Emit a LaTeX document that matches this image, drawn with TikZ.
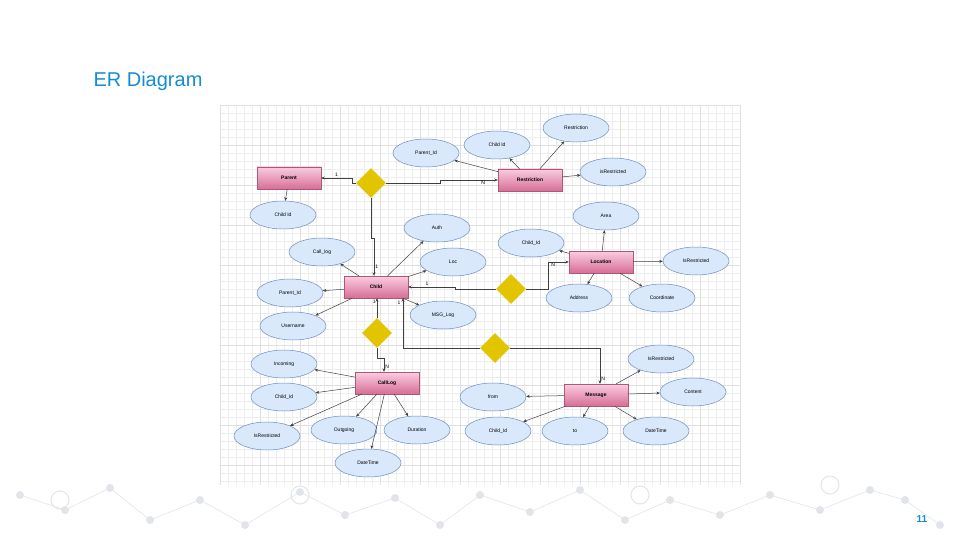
\documentclass[tikz,border=0pt]{standalone}
\usepackage{fontspec}
\setmainfont{Liberation Sans}
\usetikzlibrary{shapes.geometric,arrows.meta}
\definecolor{ttl}{RGB}{20,140,210}
\definecolor{ell}{RGB}{218,232,252}
\definecolor{ellb}{RGB}{108,142,191}
\definecolor{ent1}{RGB}{250,205,225}
\definecolor{ent2}{RGB}{215,110,150}
\definecolor{dia}{RGB}{227,196,0}
\definecolor{deco}{RGB}{225,228,232}
\begin{document}
\begin{tikzpicture}[x=1pt,y=-1pt,
 ent/.style={draw=ent2!80!black,line width=0.4pt,top color=ent1,bottom color=ent2,minimum width=64pt,minimum height=22pt,font=\fontsize{5}{6}\selectfont\bfseries,inner sep=0pt},
 att/.style={ellipse,draw=ellb,fill=ell,line width=0.5pt,minimum width=66pt,minimum height=28pt,font=\fontsize{5}{6}\selectfont,inner sep=0pt},
 rel/.style={diamond,fill=dia,minimum width=30pt,minimum height=30pt,inner sep=0pt},
 ln/.style={draw=black!75,line width=0.5pt,-{Stealth[length=3.5pt,width=3pt]}},
 lb/.style={font=\fontsize{5}{6}\selectfont,inner sep=1pt}]
\useasboundingbox (0,0) rectangle (960,540);
% bottom decoration
\foreach \x/\y in {20/495,65/510,110/488,150/520,200/500,245/525,300/492,345/515,395/498,440/525,480/495,530/512,580/490,625/520,670/500,720/515,770/495,820/510,870/490,905/500,940/525}{
  \fill[deco] (\x,\y) circle (4pt);}
\foreach \x/\y in {60/500,300/495,640/495,830/485}{\draw[deco,line width=1pt] (\x,\y) circle (9pt);}
\draw[deco,line width=0.6pt] (20,495)--(65,510)--(110,488)--(150,520)--(200,500)--(245,525) (300,492)--(345,515)--(395,498)--(440,525) (480,495)--(530,512)--(580,490)--(625,520)--(670,500)--(720,515)--(770,495)--(820,510)--(870,490)--(905,500)--(940,525) (245,525)--(300,492) (440,525)--(480,495);
% grid
\fill[white] (220,105) rectangle (740,485);
\foreach \i in {0,...,65}{\draw[black!7,line width=0.3pt] (220+8*\i,105) -- (220+8*\i,485);}
\foreach \j in {0,...,47}{\draw[black!7,line width=0.3pt] (220,105+8*\j) -- (740,105+8*\j);}
\foreach \i in {0,...,13}{\draw[black!12,line width=0.3pt] (220+40*\i,105) -- (220+40*\i,485);}
\foreach \j in {0,...,9}{\draw[black!12,line width=0.3pt] (220,105+40*\j) -- (740,105+40*\j);}
\node[anchor=west,text=ttl,font=\fontsize{20}{24}\selectfont] (title) at (90,81) {ER Diagram};
\node[text=ttl,font=\fontsize{10}{12}\selectfont\bfseries] (pg) at (922,519) {11};
% entities
\node[ent] (par) at (289,178) {Parent};
\node[ent] (res) at (530,180) {Restriction};
\node[ent] (chi) at (376,287) {Child};
\node[ent] (loc) at (601,262) {Location};
\node[ent] (cal) at (387,383) {CallLog};
\node[ent] (msg) at (596,395) {Message};
% relations
\node[rel] (d1) at (371,183) {};
\node[rel] (d2) at (511,289) {};
\node[rel] (d3) at (377,333) {};
\node[rel] (d4) at (495,348) {};
% attributes
\node[att] (a1) at (283,215) {Child Id};
\node[att] (a2) at (426,153) {Parent\_Id};
\node[att] (a3) at (497,145) {Child Id};
\node[att] (a4) at (576,128) {Restriction};
\node[att] (a5) at (613,172) {isRestricted};
\node[att] (a6) at (437,228) {Auth};
\node[att] (a7) at (322,252) {Call\_log};
\node[att] (a8) at (453,262) {Loc};
\node[att] (a9) at (290,293) {Parent\_Id};
\node[att] (a10) at (293,326) {Username};
\node[att] (a11) at (443,315) {MSG\_Log};
\node[att] (a12) at (606,216) {Area};
\node[att] (a13) at (531,243) {Child\_Id};
\node[att] (a14) at (696,261) {IsRestricted};
\node[att] (a15) at (579,298) {Address};
\node[att] (a16) at (662,298) {Coordinate};
\node[att] (a17) at (284,364) {Incoming};
\node[att] (a18) at (284,397) {Child\_Id};
\node[att] (a19) at (267,436) {IsRestricted};
\node[att] (a20) at (344,430) {Outgoing};
\node[att] (a21) at (417,430) {Duration};
\node[att] (a22) at (368,463) {DateTime};
\node[att] (a23) at (661,359) {IsRestricted};
\node[att] (a24) at (693,392) {Content};
\node[att] (a25) at (493,397) {from};
\node[att] (a26) at (498,431) {Child\_Id};
\node[att] (a27) at (575,431) {to};
\node[att] (a28) at (656,431) {DateTime};
% attribute links
\draw[ln] (par) -- (a1);
\draw[ln] (res) -- (a2);
\draw[ln] (res) -- (a3);
\draw[ln] (res) -- (a4);
\draw[ln] (res) -- (a5);
\draw[ln] (chi) -- (a6);
\draw[ln] (chi) -- (a7);
\draw[ln] (chi) -- (a8);
\draw[ln] (chi) -- (a9);
\draw[ln] (chi) -- (a10);
\draw[ln] (chi) -- (a11);
\draw[ln] (loc) -- (a12);
\draw[ln] (loc) -- (a13);
\draw[ln] (loc) -- (a14);
\draw[ln] (loc) -- (a15);
\draw[ln] (loc) -- (a16);
\draw[ln] (cal) -- (a17);
\draw[ln] (cal) -- (a18);
\draw[ln] (cal) -- (a19);
\draw[ln] (cal) -- (a20);
\draw[ln] (cal) -- (a21);
\draw[ln] (cal) -- (a22);
\draw[ln] (msg) -- (a23);
\draw[ln] (msg) -- (a24);
\draw[ln] (msg) -- (a25);
\draw[ln] (msg) -- (a26);
\draw[ln] (msg) -- (a27);
\draw[ln] (msg) -- (a28);
% relationships
\draw[ln] (d1.west) -- ++(-4,0) |- (par.east) node[lb,pos=0.75,above] {1};
\draw[ln] (d1.east) -- (440,183) |- (res.west) node[lb,pos=0.9,below left] {N};
\draw[ln] (d1.south) -- (371,238) -- (374,238) -- (chi.north -| 374,0) node[lb,pos=0.75,right] {1};
\draw[ln] (d2.west) -- (455,289) |- (chi.east) node[lb,pos=0.8,above] {1};
\draw[ln] (d2.east) -- (548,289) |- (loc.west) node[lb,pos=0.7,below left] {N};
\draw[ln] (d3.north) -- (chi.south -| d3) node[lb,pos=0.8,left] {1};
\draw[ln] (d3.south) -- (377,358) -- (384,358) -- (cal.north -| 384,0) node[lb,pos=0.6,right] {N};
\draw[ln] (d4.west) -- (403,348) -- (chi.south -| 403,0);
\draw[ln] (d4.east) -- (600,348) -- (msg.north -| 600,0) node[lb,pos=0.85,right] {N};
\node[lb] (l1) at (399,303) {1};
\end{tikzpicture}
\end{document}
